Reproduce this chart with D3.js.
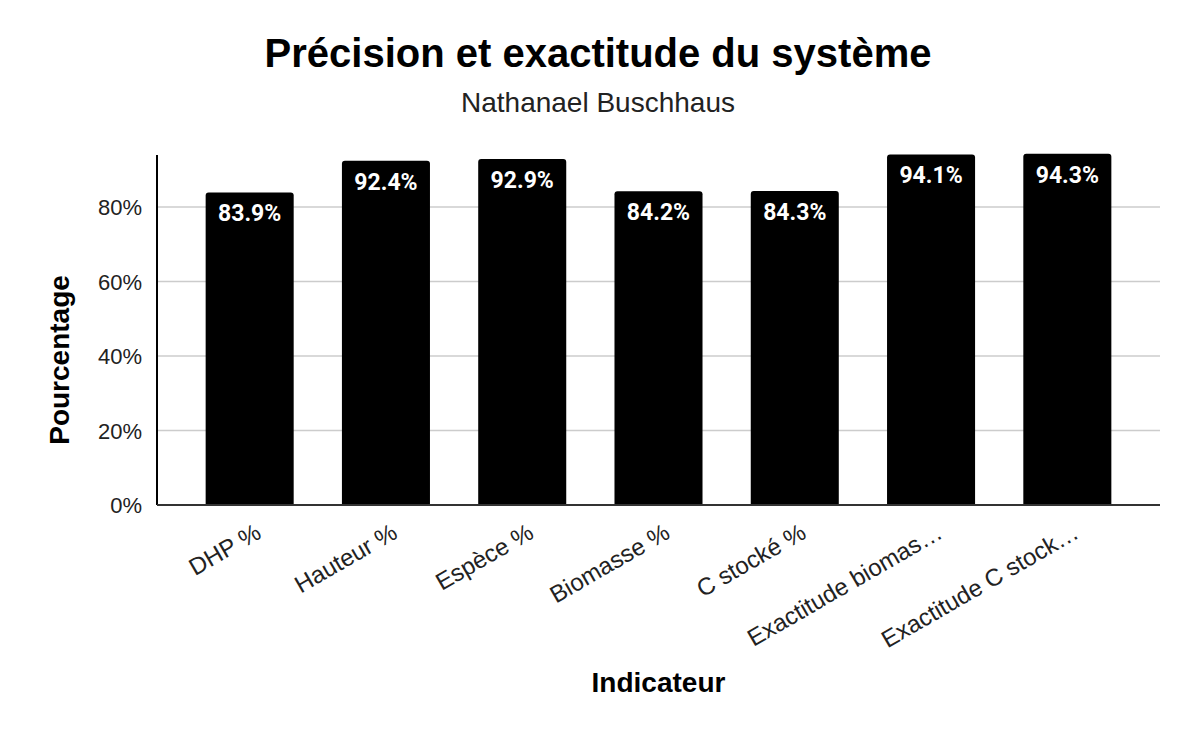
<!DOCTYPE html>
<html><head><meta charset="utf-8">
<script src="https://cdn.jsdelivr.net/npm/d3@7"></script>
<style>body{margin:0;background:#fff}svg{display:block}</style>
</head><body>
<svg id="c" width="1197" height="739"></svg>
<script>
const categories = ["DHP %","Hauteur %","Espèce %","Biomasse %","C stocké %","Exactitude biomas…","Exactitude C stock…"];
const values = [83.9, 92.4, 92.9, 84.2, 84.3, 94.1, 94.3];
const yTicks = [0, 20, 40, 60, 80];

const svg = d3.select("#c");
const FONT = "'Liberation Sans', Arial, sans-serif";
const mLeft = 157, mRight = 1160, mTop = 155, mBottom = 505;
const x = d3.scaleBand().domain(categories).range([mLeft, mRight]).paddingInner(0.354).paddingOuter(0.357);
const y = d3.scaleLinear().domain([0, 100]).range([mBottom, mBottom - 372.5]);

// gridlines
svg.append("g").selectAll("line").data(yTicks.filter(d => d > 0)).join("line")
  .attr("x1", mLeft).attr("x2", mRight).attr("y1", d => y(d)).attr("y2", d => y(d))
  .attr("stroke", "#cccccc").attr("stroke-width", 1.5);

// bars with rounded top corners
const r = 3;
svg.append("g").selectAll("path").data(values).join("path")
  .attr("d", (d, i) => {
    const x0 = x(categories[i]), w = x.bandwidth(), y0 = y(d), y1 = y(0);
    return `M${x0},${y1}V${y0 + r}Q${x0},${y0} ${x0 + r},${y0}H${x0 + w - r}Q${x0 + w},${y0} ${x0 + w},${y0 + r}V${y1}Z`;
  })
  .attr("fill", "#000");

// value labels
svg.append("g").selectAll("text").data(values).join("text")
  .attr("x", (d, i) => x(categories[i]) + x.bandwidth() / 2)
  .attr("y", d => y(d) + 29)
  .attr("text-anchor", "middle")
  .attr("fill", "#fff")
  .attr("font-family", "Roboto, sans-serif")
  .attr("font-weight", "bold")
  .attr("font-size", 23)
  .text(d => d.toFixed(1) + "%");

// y axis
const yAxis = d3.axisLeft(y).tickValues(yTicks).tickFormat(d => d + "%").tickSize(0).tickPadding(15);
const ya = svg.append("g").attr("transform", `translate(${mLeft},0)`).call(yAxis);
ya.select(".domain").remove();
ya.selectAll("text").attr("font-family", FONT).attr("font-size", 22).attr("fill", "#222").attr("dy", "0.35em");
svg.append("line").attr("x1", mLeft).attr("x2", mLeft).attr("y1", mTop).attr("y2", mBottom).attr("stroke", "#000").attr("stroke-width", 2);

// x axis
const xAxis = d3.axisBottom(x).tickSize(0).tickPadding(0);
const xa = svg.append("g").attr("transform", `translate(0,${mBottom})`).call(xAxis);
xa.select(".domain").remove();
xa.selectAll("text")
  .attr("font-family", FONT).attr("font-size", 24).attr("fill", "#222")
  .attr("text-anchor", "end")
  .attr("dy", null)
  .attr("transform", "translate(13,32) rotate(-30)");
svg.append("line").attr("x1", mLeft).attr("x2", mRight).attr("y1", mBottom).attr("y2", mBottom).attr("stroke", "#333").attr("stroke-width", 2);

// titles
svg.append("text").attr("x", 598).attr("y", 67).attr("text-anchor", "middle")
  .attr("font-family", FONT).attr("font-weight", "bold").attr("font-size", 40)
  .attr("fill", "#000").text("Précision et exactitude du système");
svg.append("text").attr("x", 598).attr("y", 112).attr("text-anchor", "middle")
  .attr("font-family", FONT).attr("font-size", 28)
  .attr("fill", "#222").text("Nathanael Buschhaus");
svg.append("text").attr("x", (mLeft + mRight) / 2).attr("y", 692).attr("text-anchor", "middle")
  .attr("font-family", FONT).attr("font-weight", "bold").attr("font-size", 28)
  .attr("fill", "#000").text("Indicateur");
svg.append("text").attr("transform", "translate(69,360) rotate(-90)").attr("text-anchor", "middle")
  .attr("font-family", FONT).attr("font-weight", "bold").attr("font-size", 28)
  .attr("fill", "#000").text("Pourcentage");
</script>
</body></html>
